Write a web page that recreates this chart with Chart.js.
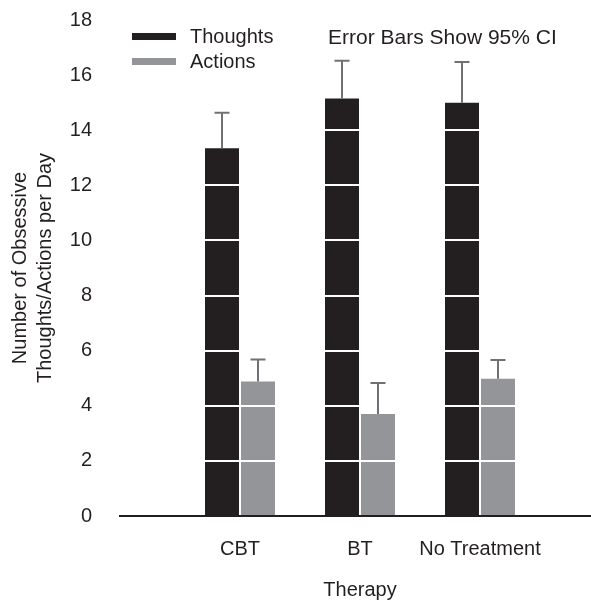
<!DOCTYPE html>
<html>
<head>
<meta charset="utf-8">
<script src="https://cdn.jsdelivr.net/npm/chart.js@4"></script>
<style>
  html, body { margin: 0; padding: 0; background: #fff; overflow: hidden; }
  /* a little wider than the window: the axis runs off the right edge */
  #box { width: 600px; height: 600px; }
</style>
</head>
<body>
<div id="box"><canvas id="therapyChart"></canvas></div>
<script>
// blank slots at both ends keep the axis running past the groups
const therapies = ['', 'CBT', 'BT', 'No Treatment', ''];
const thoughts = [null, 13.35, 15.15, 15.0, null];
const thoughtsUpper = [null, 14.63, 16.52, 16.48, null];
const actions = [null, 4.88, 3.7, 4.98, null];
const actionsUpper = [null, 5.68, 4.83, 5.66, null];
const yTicks = [0, 2, 4, 6, 8, 10, 12, 14, 16, 18];

const ink = '#231f20';
const grey = '#939598';
const family = 'Liberation Sans, Arial, sans-serif';
const font = {family: family, size: 20};

const errorBars = {
    id: 'errorBars',
    afterDraw(chart) {
        const ctx = chart.ctx;
        const y = chart.scales.y;
        const uppers = [thoughtsUpper, actionsUpper];
        ctx.save();
        ctx.strokeStyle = '#707174';
        ctx.lineWidth = 2;
        uppers.forEach((up, di) => {
            chart.getDatasetMeta(di).data.forEach((bar, i) => {
                if (up[i] == null) return;
                const top = y.getPixelForValue(up[i]);
                ctx.beginPath();
                ctx.moveTo(bar.x, bar.y);
                ctx.lineTo(bar.x, top);
                ctx.moveTo(bar.x - 7.5, top);
                ctx.lineTo(bar.x + 7.5, top);
                ctx.stroke();
            });
        });

        // legend block, top left of the plot
        ctx.textBaseline = 'middle';
        ctx.font = '20px ' + family;
        chart.data.datasets.forEach((ds, i) => {
            const cy = 37 + i * 25;
            ctx.fillStyle = ds.backgroundColor;
            ctx.fillRect(132, cy - 4, 44, 7);
            ctx.fillStyle = ink;
            ctx.fillText(ds.label, 190, cy);
        });
        ctx.font = '21px ' + family;
        ctx.fillText('Error Bars Show 95% CI', 328, 38);
        ctx.restore();
    }
};

let chart;
function initializeChart() {
    const ctx = document.getElementById('therapyChart').getContext('2d');
    chart = new Chart(ctx, {
        type: 'bar',
        data: {
            labels: therapies,
            datasets: [
                {
                    label: 'Thoughts',
                    data: thoughts,
                    backgroundColor: ink,
                    categoryPercentage: 0.6,
                    barPercentage: 0.944,
                },
                {
                    label: 'Actions',
                    data: actions,
                    backgroundColor: grey,
                    categoryPercentage: 0.6,
                    barPercentage: 0.944,
                },
            ]
        },
        options: {
            responsive: true,
            maintainAspectRatio: false,
            animation: false,
            layout: {padding: {top: 20, right: 0, left: 0, bottom: -2}},
            plugins: {
                tooltip: {enabled: false},
                legend: {display: false}
            },
            scales: {
                x: {
                    offset: false,
                    afterFit: s => {
                        s.height = 86;
                        s.paddingLeft = 0;
                        s.paddingRight = 0;
                    },
                    grid: {display: false},
                    border: {display: true, color: ink, width: 2},
                    ticks: {color: ink, font: font, padding: 13, maxRotation: 0, autoSkip: false},
                    title: {
                        display: true,
                        text: 'Therapy',
                        color: ink,
                        font: font,
                        padding: {top: 20, bottom: 0}
                    }
                },
                y: {
                    min: 0,
                    max: 18,
                    afterBuildTicks: s => { s.ticks = yTicks.map(v => ({value: v})); },
                    afterFit: s => {
                        s.width = 120;
                        s.paddingTop = 0;
                        s.paddingBottom = 0;
                    },
                    grid: {
                        z: 1,
                        lineWidth: 2,
                        drawTicks: false,
                        color: c => (c.tick && c.tick.value === 0) ? 'rgba(0,0,0,0)' : '#ffffff'
                    },
                    border: {display: false},
                    ticks: {color: ink, font: font, padding: 28},
                    title: {
                        display: true,
                        text: ['Number of Obsessive', 'Thoughts/Actions per Day'],
                        color: ink,
                        font: {family: family, size: 20, lineHeight: 1.25},
                        padding: {top: 8, bottom: 0}
                    }
                }
            }
        },
        plugins: [errorBars]
    });
}

window.onload = initializeChart;
</script>
</body>
</html>
